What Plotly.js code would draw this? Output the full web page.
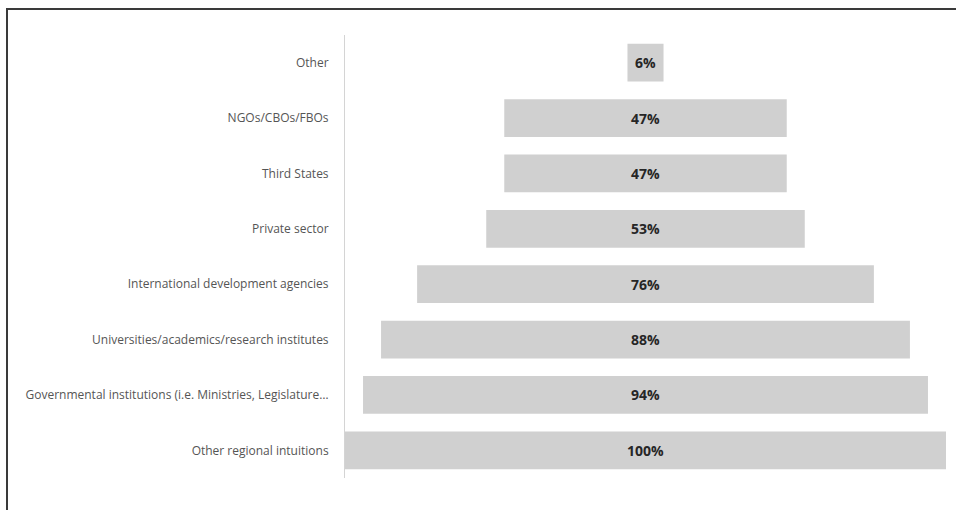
<!DOCTYPE html>
<html>
<head>
<meta charset="utf-8">
<script src="https://cdn.plot.ly/plotly-3.0.1.min.js"></script>
<style>
  html, body { margin: 0; padding: 0; background: #fff; }
  #wrap { position: relative; width: 956px; height: 510px; overflow: hidden; }
  #chart { position: absolute; left: 0; top: 0; width: 956px; height: 510px; }
  #frame { position: absolute; left: 6px; top: 8px; width: 960px; height: 520px;
           border-left: 2px solid #3a3a3a; border-top: 2px solid #3a3a3a; pointer-events: none; }
</style>
</head>
<body>
<div id="wrap">
  <div id="chart"></div>
  <div id="frame"></div>
</div>
<script>
// Categories from top to bottom
const categories = [
  "Other",
  "NGOs/CBOs/FBOs",
  "Third States",
  "Private sector",
  "International development agencies",
  "Universities/academics/research institutes",
  "Governmental institutions (i.e. Ministries, Legislature…",
  "Other regional intuitions"
];
const percentages = [6, 47, 47, 53, 76, 88, 94, 100];

const trace = {
  type: "funnel",
  y: categories,
  x: percentages,
  texttemplate: "%{x}%",
  textposition: "inside",
  insidetextanchor: "middle",
  constraintext: "none",
  textfont: { family: "Open Sans, Liberation Sans, sans-serif", size: 14, color: "#262626", weight: "bold" },
  marker: { color: "#d0d0d0", line: { width: 0 } },
  connector: { visible: false },
  hoverinfo: "y+x"
};

const layout = {
  width: 956,
  height: 510,
  margin: { l: 345, r: 10, t: 35, b: 32 },
  paper_bgcolor: "#ffffff",
  plot_bgcolor: "#ffffff",
  showlegend: false,
  funnelgap: 0.32,
  font: { family: "Open Sans, Liberation Sans, sans-serif" },
  xaxis: { visible: false, range: [-50, 50], fixedrange: true },
  yaxis: {
    showline: true,
    linecolor: "#d4d4d4",
    linewidth: 1,
    showgrid: false,
    ticks: "",
    ticklabelstandoff: 13,
    tickfont: { family: "Open Sans, Liberation Sans, sans-serif", size: 12, color: "#555555" },
    fixedrange: true
  }
};

Plotly.newPlot("chart", [trace], layout, { displayModeBar: false, staticPlot: true });
</script>
</body>
</html>
